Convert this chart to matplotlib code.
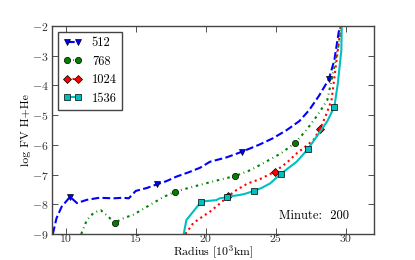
import matplotlib
matplotlib.use("Agg")
import matplotlib.pyplot as plt

plt.rcParams['font.family'] = 'serif'
plt.rcParams['font.serif'] = ['cmr10']
plt.rcParams['mathtext.fontset'] = 'cm'
plt.rcParams['axes.formatter.use_mathtext'] = True
plt.rcParams['font.size'] = 9

# Series data (Radius [10^3 km], log FV H+He)
x512 = [9.07, 9.33, 9.7, 10.3, 10.8, 11.5, 12.4, 13.4, 14.1, 14.5, 15.0, 15.8, 16.5, 17.2, 17.9,
        18.8, 19.6, 20.3, 21.5, 22.6, 23.8, 24.8, 25.8, 26.7, 27.4, 28.1, 28.8, 29.2, 29.5, 29.6]
y512 = [-9.0, -8.47, -8.08, -7.75, -7.96, -7.85, -7.78, -7.8, -7.78, -7.8, -7.55, -7.45, -7.33, -7.22, -7.07,
        -6.92, -6.77, -6.57, -6.42, -6.23, -6.0, -5.78, -5.5, -5.2, -4.83, -4.35, -3.8, -3.15, -2.24, -2.0]
m512 = [3, 12, 19, 26]

x768 = [11.1, 11.5, 12.0, 12.5, 12.9, 13.5, 14.2, 14.8, 15.3, 16.2, 17.0, 17.8, 19.0, 20.3, 21.2,
        22.1, 23.2, 24.3, 25.4, 26.4, 27.2, 28.0, 28.7, 29.2, 29.57, 29.7]
y768 = [-9.0, -8.53, -8.28, -8.2, -8.36, -8.62, -8.45, -8.36, -8.22, -7.97, -7.75, -7.58, -7.42, -7.26, -7.15,
        -7.05, -6.85, -6.57, -6.28, -5.93, -5.5, -5.0, -4.49, -3.37, -2.47, -2.0]
m768 = [5, 11, 15, 19]

x1024 = [18.55, 19.1, 19.6, 20.3, 21.0, 21.6, 22.2, 23.0, 23.9, 24.95, 25.8, 26.5, 27.1, 27.7, 28.2,
         28.6, 29.0, 29.3, 29.6, 29.65]
y1024 = [-9.0, -8.64, -8.47, -8.25, -7.98, -7.73, -7.52, -7.3, -7.15, -6.9, -6.6, -6.29, -6.07, -5.84, -5.45,
         -5.0, -4.49, -3.37, -2.24, -2.0]
m1024 = [5, 9, 14]

x1536 = [18.43, 18.62, 19.1, 19.68, 20.3, 20.76, 21.0, 21.55, 21.9, 22.4, 22.8, 23.45, 24.0, 24.6, 25.36,
         26.0, 26.5, 27.3, 28.1, 28.7, 29.2, 29.45, 29.7, 29.73]
y1536 = [-9.0, -8.53, -8.25, -7.91, -7.88, -7.86, -7.8, -7.76, -7.72, -7.69, -7.65, -7.55, -7.45, -7.3, -6.98,
         -6.75, -6.57, -6.15, -5.61, -5.2, -4.72, -3.93, -2.81, -2.0]
m1536 = [3, 7, 11, 14, 17, 20]

labels = ['512', '768', '1024', '1536']
xticks = [10, 15, 20, 25, 30]
xticklabels = ['10', '15', '20', '25', '30']
yticks = [-9, -8, -7, -6, -5, -4, -3, -2]
annotation = 'Minute:  200'

fig = plt.figure(figsize=(4.15, 2.6), dpi=100)
ax = fig.add_axes([0.125, 0.1, 0.775, 0.8])

ax.plot(x512, y512, color='b', ls='--', lw=1.5, marker='v', ms=4.5,
        mfc='b', mec='black', mew=0.5, markevery=m512, label=labels[0])
ax.plot(x768, y768, color='g', ls='-.', lw=1.5, marker='o', ms=4.5,
        mfc='g', mec='black', mew=0.5, markevery=m768, label=labels[1], dashes=(1.2, 1.8, 0.4, 1.8))
ax.plot(x1024, y1024, color='r', ls=':', lw=1.5, marker='D', ms=4.2,
        mfc='r', mec='black', mew=0.5, markevery=m1024, label=labels[2])
ax.plot(x1536, y1536, color='c', ls='-', lw=1.5, marker='s', ms=4.5,
        mfc='c', mec='black', mew=0.5, markevery=m1536, label=labels[3])

ax.set_xlim(9, 32)
ax.set_ylim(-9, -2)
ax.set_xticks(xticks)
ax.set_xticklabels(xticklabels)
ax.set_yticks(yticks)
ax.tick_params(direction='in', top=True, right=True, length=4, width=0.6, colors='#333333')
ax.tick_params(axis='x', pad=0.5, labelsize=8.5)
ax.tick_params(axis='y', pad=2.5, labelsize=8.5)
for s in ax.spines.values():
    s.set_color('#444444')
    s.set_linewidth(1.0)

ax.set_xlabel('Radius [10$^3$km]', fontsize=8.5)
ax.xaxis.label.set_va('center')
ax.xaxis.set_label_coords(0.5, -0.09)
ax.set_ylabel('log FV H+He', fontsize=8.5)
ax.yaxis.label.set_va('center')
ax.yaxis.set_label_coords(-0.08, 0.5)

ax.text(27.75, -8.4, annotation, ha='center', va='center')

leg = ax.legend(loc='upper left', numpoints=2, handlelength=1.5, fancybox=False,
                framealpha=1, edgecolor='#444444', borderaxespad=0.5, labelspacing=0.5)
leg.get_frame().set_linewidth(1.0)

fig.savefig('out.png', dpi=100)
